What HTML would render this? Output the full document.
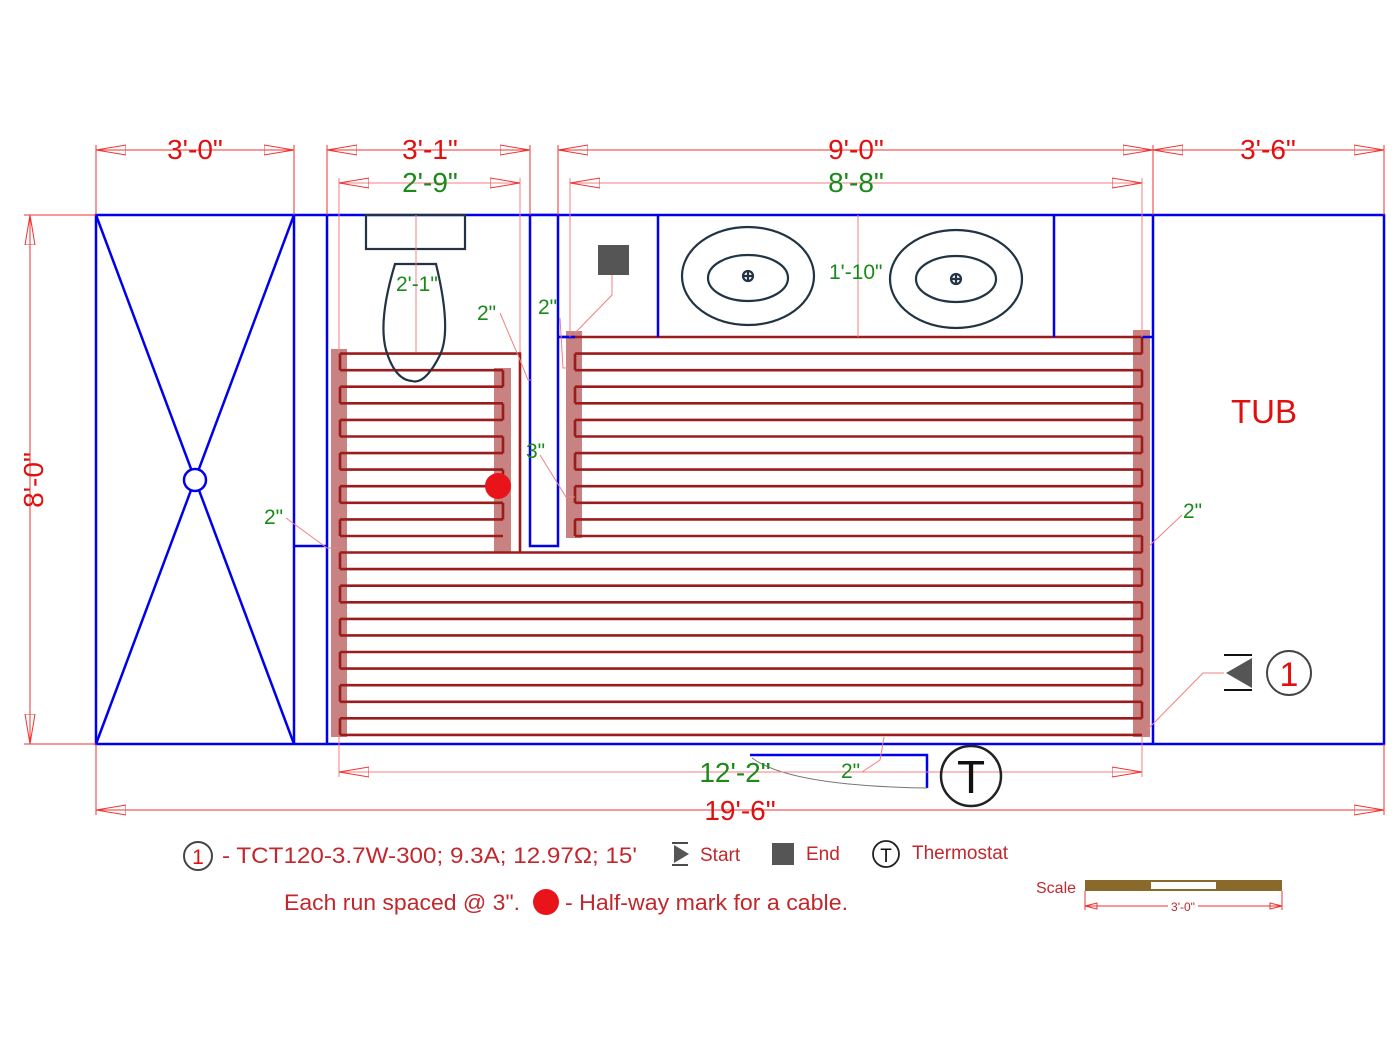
<!DOCTYPE html>
<html><head><meta charset="utf-8"><style>
html,body{margin:0;padding:0;background:#fff;}
svg{display:block;font-family:"Liberation Sans",sans-serif;}
</style></head><body>
<svg width="1400" height="1049" viewBox="0 0 1400 1049" xmlns="http://www.w3.org/2000/svg">
<defs>
<marker id="al" viewBox="0 0 30 12" refX="0" refY="6" markerWidth="30" markerHeight="12" markerUnits="userSpaceOnUse" orient="auto"><path d="M0 6 L30 1 L30 11 Z" fill="none" stroke="#e33" stroke-width="1"/></marker>
<marker id="ar" viewBox="0 0 30 12" refX="30" refY="6" markerWidth="30" markerHeight="12" markerUnits="userSpaceOnUse" orient="auto"><path d="M30 6 L0 1 L0 11 Z" fill="none" stroke="#e33" stroke-width="1"/></marker>
</defs>

<g fill="#c98282">
<rect x="331" y="349" width="16" height="388"/>
<rect x="494" y="368" width="17" height="184"/>
<rect x="566" y="331" width="16" height="207"/>
<rect x="1133" y="330" width="17" height="407"/>
</g>

<g stroke="#9b1c1c" stroke-width="2.6" fill="none">
<path d="M340 353.6H520V552.5 M340 370.2H503 M340 386.7H503 M340 403.3H503 M340 419.9H503 M340 436.5H503 M340 453.1H503 M340 469.6H503 M340 486.2H503 M340 502.8H503 M340 519.4H503 M340 536H503
M560 337H1142 M575 353.6H1142 M575 370.2H1142 M575 386.7H1142 M575 403.3H1142 M575 419.9H1142 M575 436.5H1142 M575 453.1H1142 M575 469.6H1142 M575 486.2H1142 M575 502.8H1142 M575 519.4H1142 M575 536H1142
M340 552.5H1142 M340 569.1H1142 M340 585.7H1142 M340 602.3H1142 M340 618.9H1142 M340 635.4H1142 M340 652H1142 M340 668.6H1142 M340 685.2H1142 M340 701.8H1142 M340 718.3H1142 M340 734.9H1142"/>
<line x1="340" y1="353.6" x2="340" y2="734.9" stroke-dasharray="16.58 16.58"/>
<line x1="503" y1="370.2" x2="503" y2="536" stroke-dasharray="16.58 16.58"/>
<line x1="575" y1="353.6" x2="575" y2="536" stroke-dasharray="16.58 16.58"/>
<line x1="1142" y1="337" x2="1142" y2="734.9" stroke-dasharray="16.58 16.58"/>
</g>

<g stroke="#0000ee" stroke-width="2.5" fill="none">
<rect x="96" y="215" width="1288" height="529"/>
<line x1="294" y1="215" x2="294" y2="744"/>
<line x1="327" y1="215" x2="327" y2="744"/>
<line x1="1153" y1="215" x2="1153" y2="744"/>
<line x1="294" y1="546" x2="327" y2="546"/>
<rect x="530" y="215" width="28" height="331" fill="#fff"/>
<line x1="658" y1="215" x2="658" y2="337"/>
<line x1="1054" y1="215" x2="1054" y2="337"/>
<line x1="558" y1="337" x2="575" y2="337"/>
<line x1="1142" y1="337" x2="1153" y2="337"/>
<line x1="96" y1="215" x2="294" y2="744"/>
<line x1="294" y1="215" x2="96" y2="744"/>
<circle cx="195" cy="480" r="11" fill="#fff"/>
<path d="M750 755H927V788"/>
</g>
<path d="M752 758 Q790 786 927 788" stroke="#777" stroke-width="1" fill="none"/>

<g stroke="#234" stroke-width="2.2" fill="none">
<rect x="366" y="215" width="99" height="34"/>
<path d="M395 264 H436 Q452 330 440 355 Q425 385 412 381 Q395 380 386 350 Q378 320 395 264Z"/>
<ellipse cx="748" cy="276" rx="66" ry="49"/>
<ellipse cx="748" cy="278" rx="40" ry="23"/>
<circle cx="748" cy="276" r="5"/><path d="M743 276h10M748 271v10"/>
<ellipse cx="956" cy="279" rx="66" ry="49"/>
<ellipse cx="956" cy="279" rx="40" ry="23"/>
<circle cx="956" cy="279" r="5"/><path d="M951 279h10M956 274v10"/>
</g>
<rect x="598" y="245" width="31" height="30" fill="#555"/>

<g stroke="#e33" stroke-width="1" fill="none">
<line x1="96" y1="145" x2="96" y2="215"/><line x1="294" y1="145" x2="294" y2="215"/>
<line x1="327" y1="145" x2="327" y2="215"/><line x1="530" y1="145" x2="530" y2="215"/>
<line x1="558" y1="145" x2="558" y2="215"/><line x1="1153" y1="145" x2="1153" y2="215"/>
<line x1="1384" y1="145" x2="1384" y2="215"/>
<line x1="96" y1="150" x2="294" y2="150" marker-start="url(#al)" marker-end="url(#ar)"/>
<line x1="327" y1="150" x2="530" y2="150" marker-start="url(#al)" marker-end="url(#ar)"/>
<line x1="558" y1="150" x2="1153" y2="150" marker-start="url(#al)" marker-end="url(#ar)"/>
<line x1="1153" y1="150" x2="1384" y2="150" marker-start="url(#al)" marker-end="url(#ar)"/>
<line x1="24" y1="215" x2="96" y2="215"/><line x1="24" y1="744" x2="96" y2="744"/>
<line x1="30" y1="215" x2="30" y2="744" marker-start="url(#al)" marker-end="url(#ar)"/>
<line x1="96" y1="744" x2="96" y2="815"/><line x1="1384" y1="744" x2="1384" y2="815"/>
<line x1="96" y1="810" x2="1384" y2="810" marker-start="url(#al)" marker-end="url(#ar)"/>
</g>
<g stroke="#f08080" stroke-width="1" fill="none">
<line x1="339" y1="178" x2="339" y2="352"/><line x1="520" y1="178" x2="520" y2="352"/>
<line x1="339" y1="183" x2="520" y2="183" marker-start="url(#al)" marker-end="url(#ar)"/>
<line x1="570" y1="178" x2="570" y2="337"/><line x1="1142" y1="178" x2="1142" y2="337"/>
<line x1="570" y1="183" x2="1142" y2="183" marker-start="url(#al)" marker-end="url(#ar)"/>
<line x1="339" y1="737" x2="339" y2="777"/><line x1="1142" y1="737" x2="1142" y2="777"/>
<line x1="339" y1="772" x2="1142" y2="772" marker-start="url(#al)" marker-end="url(#ar)"/>
<line x1="416" y1="215" x2="416" y2="352"/>
<line x1="858" y1="215" x2="858" y2="337"/>
<path d="M500 313 L520 360 L528 380 L532 380"/>
<path d="M560 318 L563 368 L568 368"/>
<path d="M286 518 L327 548 L338 548"/>
<path d="M540 455 L566 497 L575 497"/>
<path d="M1182 515 L1147 548"/>
<path d="M612 275 V295 L575 333"/>
<path d="M1224 673 H1203 L1147 730"/>
<path d="M862 772 L880 760 L884 737"/>
</g>

<g font-size="28" fill="#e01010" text-anchor="middle">
<text x="195" y="159">3'-0"</text>
<text x="430" y="159">3'-1"</text>
<text x="856" y="159">9'-0"</text>
<text x="1268" y="159">3'-6"</text>
<text x="740" y="820">19'-6"</text>
<text x="0" y="0" transform="translate(43 480) rotate(-90)">8'-0"</text>
<text x="1264" y="423" font-size="33">TUB</text>
</g>
<g font-size="28" fill="#1a8a1a" text-anchor="middle">
<text x="430" y="192">2'-9"</text>
<text x="856" y="192">8'-8"</text>
<text x="735" y="782">12'-2"</text>
</g>
<g font-size="21" fill="#1a8a1a">
<text x="396" y="291">2'-1"</text>
<text x="477" y="320">2"</text>
<text x="538" y="314">2"</text>
<text x="829" y="279">1'-10"</text>
<text x="526" y="458">3"</text>
<text x="264" y="524">2"</text>
<text x="1183" y="518">2"</text>
<text x="841" y="778">2"</text>
</g>

<g>
<line x1="1224" y1="655" x2="1252" y2="655" stroke="#111" stroke-width="2"/>
<line x1="1224" y1="690" x2="1252" y2="690" stroke="#111" stroke-width="2"/>
<path d="M1226 673 L1252 658 L1252 688Z" fill="#555"/>
<circle cx="1289" cy="673" r="22" fill="none" stroke="#444" stroke-width="2"/>
<text x="1289" y="686" font-size="34" fill="#e01010" text-anchor="middle">1</text>
<circle cx="971" cy="776" r="30" fill="none" stroke="#222" stroke-width="2.5"/>
<text x="971" y="793" font-size="46" fill="#111" text-anchor="middle">T</text>
</g>
<circle cx="498" cy="486" r="13" fill="#e8141a"/>

<circle cx="198" cy="856" r="14" fill="none" stroke="#444" stroke-width="2"/>
<text x="198" y="864" font-size="21" fill="#e01010" text-anchor="middle">1</text>
<text x="222" y="863" font-size="22" fill="#c0282d" textLength="415" lengthAdjust="spacingAndGlyphs">- TCT120-3.7W-300; 9.3A; 12.97Ω; 15'</text>
<line x1="672" y1="843" x2="688" y2="843" stroke="#111" stroke-width="1.5"/>
<line x1="672" y1="865" x2="688" y2="865" stroke="#111" stroke-width="1.5"/>
<path d="M674 845 L689 854 L674 863Z" fill="#555"/>
<text x="700" y="861" font-size="19" fill="#c0282d">Start</text>
<rect x="772" y="843" width="22" height="22" fill="#555"/>
<text x="806" y="860" font-size="19" fill="#c0282d">End</text>
<circle cx="886" cy="854" r="13" fill="none" stroke="#222" stroke-width="1.8"/>
<text x="886" y="862" font-size="19" fill="#111" text-anchor="middle">T</text>
<text x="912" y="859" font-size="19" fill="#c0282d">Thermostat</text>
<text x="284" y="910" font-size="22" fill="#c0282d" textLength="236" lengthAdjust="spacingAndGlyphs">Each run spaced @ 3".</text>
<circle cx="546" cy="902" r="13" fill="#e8141a"/>
<text x="565" y="910" font-size="22" fill="#c0282d" textLength="283" lengthAdjust="spacingAndGlyphs">- Half-way mark for a cable.</text>

<text x="1036" y="893" font-size="16" fill="#c0282d">Scale</text>
<rect x="1085" y="880" width="197" height="11" fill="#8a6a2a"/>
<rect x="1151" y="882" width="65" height="7" fill="#fff"/>
<g stroke="#e33" stroke-width="1" fill="none">
<line x1="1085" y1="891" x2="1085" y2="910"/><line x1="1282" y1="891" x2="1282" y2="910"/>
<line x1="1085" y1="906" x2="1282" y2="906"/>
<path d="M1085 906 l12 -3 v6z M1282 906 l-12 -3 v6z"/>
</g>
<rect x="1168" y="900" width="30" height="12" fill="#fff"/>
<text x="1183" y="911" font-size="12" fill="#c0282d" text-anchor="middle">3'-0"</text>
</svg>
</body></html>
